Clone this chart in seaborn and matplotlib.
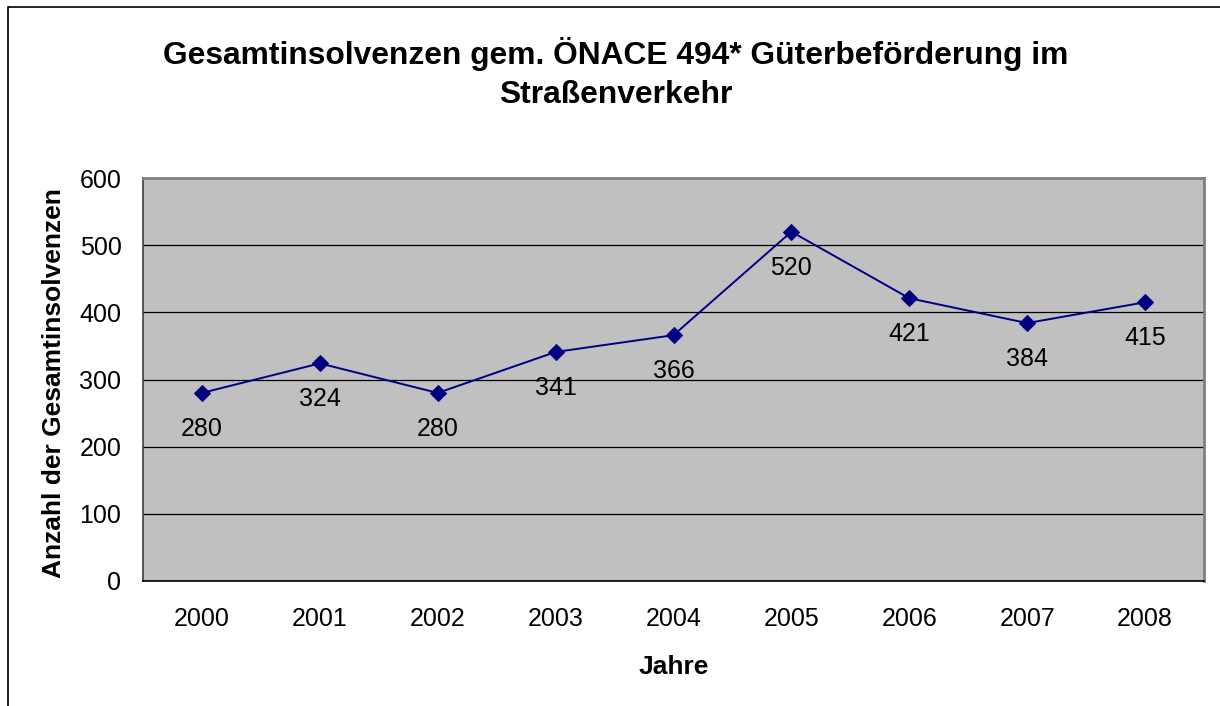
import matplotlib
matplotlib.use("Agg")
import matplotlib.pyplot as plt
import seaborn as sns
import pandas as pd
from matplotlib.patches import Rectangle
from matplotlib.ticker import FixedLocator, NullFormatter

years = ["2000", "2001", "2002", "2003", "2004", "2005", "2006", "2007", "2008"]
values = [280, 324, 280, 341, 366, 520, 421, 384, 415]
yticks = [0, 100, 200, 300, 400, 500, 600]

title = "Gesamtinsolvenzen gem. ÖNACE 494* Güterbeförderung im\nStraßenverkehr"
xlabel = "Jahre"
ylabel = "Anzahl der Gesamtinsolvenzen"

sns.set_style("white")
plt.rcParams["font.family"] = ["Liberation Sans", "DejaVu Sans"]
plt.rcParams["text.color"] = "black"
plt.rcParams["axes.labelcolor"] = "black"
plt.rcParams["xtick.color"] = "black"
plt.rcParams["ytick.color"] = "black"

df = pd.DataFrame({"pos": range(len(years)), "val": values})

fig = plt.figure(figsize=(12.2, 7.06), dpi=100)
ax = fig.add_axes([143 / 1220, 1 - 581 / 706, (1204 - 143) / 1220, (581 - 178) / 706])
ax.set_facecolor("#c0c0c0")

sns.lineplot(data=df, x="pos", y="val", ax=ax, color="#000080", linewidth=1.4,
             marker="D", markersize=8, markeredgecolor="#000080", zorder=3)

for i, v in enumerate(values):
    ax.annotate(str(v), (i, v), xytext=(0, -26), textcoords="offset points",
                ha="center", va="center", fontsize=18, color="black", zorder=4)

ax.set_xlim(-0.5, len(years) - 0.5)
ax.set_ylim(0, 600)
ax.set_yticks(yticks)
ax.set_yticklabels([str(t) for t in yticks], fontsize=18)
ax.set_xticks(range(len(years)))
ax.set_xticklabels(years, fontsize=18)
ax.tick_params(axis="x", which="major", length=0, pad=19)
ax.xaxis.set_minor_locator(FixedLocator([i - 0.5 for i in range(len(years) + 1)]))
ax.xaxis.set_minor_formatter(NullFormatter())
ax.tick_params(axis="x", which="minor", length=6, width=1, color="black", direction="out")
ax.tick_params(axis="y", which="major", length=6.5, width=1, color="black", direction="out", pad=9)

ax.yaxis.grid(True, color="black", linewidth=0.9)
ax.set_axisbelow(True)
for s in ["top", "right"]:
    ax.spines[s].set_color("#808080")
    ax.spines[s].set_linewidth(2)
ax.spines["left"].set_color("#404040")
ax.spines["left"].set_linewidth(1.2)
ax.spines["bottom"].set_color("black")
ax.spines["bottom"].set_linewidth(1.2)

ax.set_xlabel(xlabel, fontsize=19, fontweight="bold", labelpad=17)
ax.set_ylabel(ylabel, fontsize=19, fontweight="bold")
ax.yaxis.set_label_coords(-0.0725, 0.49)

fig.text(616 / 1220, 1 - 73.5 / 706, title, ha="center", va="center",
         fontsize=22.9, fontweight="bold", linespacing=1.42)

border = Rectangle((8 / 1220, -0.1), 1.2, 1 - 7 / 706 + 0.1, transform=fig.transFigure,
                   fill=False, edgecolor="black", linewidth=1.2)
fig.patches.append(border)

fig.savefig("out.png", dpi=100, facecolor="white")
